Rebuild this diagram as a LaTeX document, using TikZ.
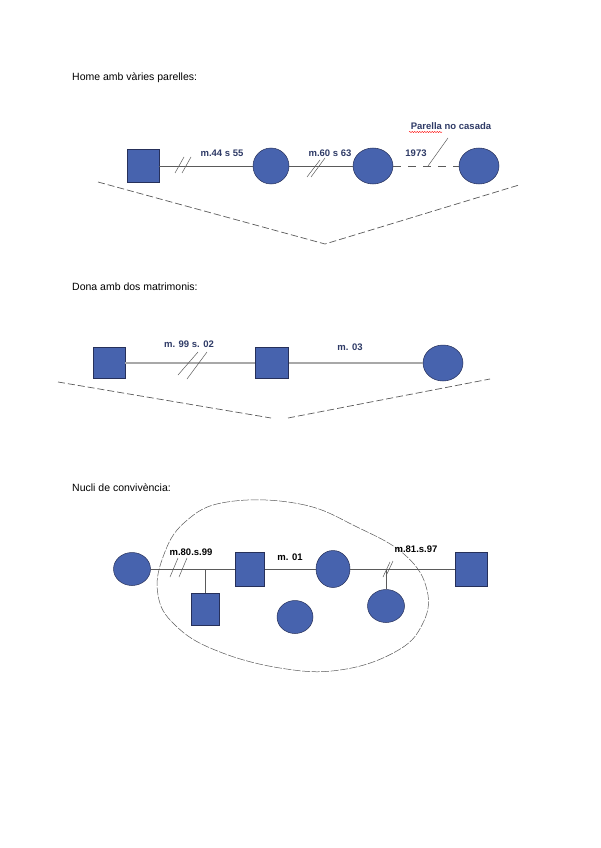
\documentclass[tikz,border=0pt]{standalone}
\usepackage{fontspec}
\setmainfont{Liberation Sans}
\usetikzlibrary{shapes.geometric,decorations.pathmorphing}
\definecolor{pblue}{HTML}{4763AE}
\definecolor{navy}{HTML}{26305A}
\definecolor{lbl}{HTML}{2E3A66}
\definecolor{lgrey}{HTML}{A8A8A8}
\definecolor{dgrey}{HTML}{5A5A5A}
\begin{document}
\begin{tikzpicture}[x=1pt,y=-1pt,
  title/.style={anchor=west,inner sep=0,font=\fontsize{10.5}{12}\selectfont},
  lab/.style={inner sep=0,font=\fontsize{9.5}{11}\bfseries\selectfont,text=lbl},
  labk/.style={inner sep=0,font=\fontsize{9.5}{11}\bfseries\selectfont,text=black},
  fem/.style={ellipse,draw=navy,fill=pblue,line width=0.5pt,inner sep=0},
  male/.style={rectangle,draw=navy,fill=pblue,line width=0.5pt,inner sep=0},
  rel/.style={draw=dgrey,line width=0.6pt},
  relg/.style={draw=lgrey,line width=1.3pt},
  slash/.style={draw=dgrey,line width=0.5pt},
  vdash/.style={draw=dgrey,line width=0.7pt,dash pattern=on 7pt off 3pt},
]
\useasboundingbox (0,0) rectangle (600,848);

% ---------- Section 1 ----------
\node[title] (t1) at (72,78) {Home amb vàries parelles:};
\node[male,minimum width=32pt,minimum height=33pt] (a1) at (143,166) {};
\node[fem,minimum width=36pt,minimum height=36pt] (a2) at (271,166) {};
\node[fem,minimum width=40pt,minimum height=36pt] (a3) at (373,166) {};
\node[fem,minimum width=40pt,minimum height=36pt] (a4) at (479,166) {};
\draw[rel] (a1.east) -- (a2.west);
\draw[rel] (a2.east) -- (a3.west);
\draw[rel,dash pattern=on 8pt off 7pt] (a3.east) -- (a4.west);
\node[lab] (l1) at (222,153) {m.44 s 55};
\node[lab] (l2) at (330,153) {m.60 s 63};
\node[lab] (l3) at (416,153) {1973};
\node[lab] (l4) at (451,126) {Parella no casada};
\coordinate (p1) at (428,166);
\coordinate (p2) at (448,138);
\draw[slash] (p1) -- (p2);
\draw[red,line width=0.4pt,decorate,decoration={snake,amplitude=0.6pt,segment length=2.5pt}] (409,132) -- (442,132);
\draw[slash] (175,173) -- (184,157);
\draw[slash] (182,173) -- (191,157);
\draw[slash] (307,177) -- (320,160);
\draw[slash] (311,177) -- (325,158);
\coordinate (v1a) at (98,182);
\coordinate (v1b) at (325,244);
\coordinate (v1c) at (519,185);
\draw[vdash] (v1a) -- (v1b) -- (v1c);

% ---------- Section 2 ----------
\node[title] (t2) at (72,287) {Dona amb dos matrimonis:};
\node[male,minimum width=32pt,minimum height=31pt] (b1) at (109,363) {};
\node[male,minimum width=33pt,minimum height=31pt] (b2) at (272,363) {};
\node[fem,minimum width=40pt,minimum height=36pt] (b3) at (443,363) {};
\draw[relg] (b1.east) -- (b2.west);
\draw[relg] (b2.east) -- (b3.west);
\node[lab] (l5) at (189,344) {m. 99 s. 02};
\node[lab] (l6) at (350,347) {m. 03};
\draw[slash] (178,375) -- (198,352);
\draw[slash] (187,379) -- (207,352);
\coordinate (v2a) at (58,382);
\coordinate (v2b) at (271,418);
\coordinate (v2c) at (288,418);
\coordinate (v2d) at (490,379);
\draw[vdash] (v2a) -- (v2b);
\draw[vdash] (v2c) -- (v2d);

% ---------- Section 3 ----------
\node[title] (t3) at (72,488) {Nucli de convivència:};
\draw[draw=dgrey,line width=0.5pt,dash pattern=on 8pt off 1.5pt]
  plot[smooth cycle,tension=0.7] coordinates {(227,502) (300,504) (357,527) (405,555) (427,590) (422,625) (395,652) (340,670) (280,668) (215,650) (175,625) (158,595) (163,557) (185,522)};
\node[fem,minimum width=37pt,minimum height=33pt] (c1) at (132,569) {};
\node[male,minimum width=29pt,minimum height=34pt] (c2) at (250,569) {};
\node[fem,minimum width=34pt,minimum height=37pt] (c3) at (333,569) {};
\node[male,minimum width=32pt,minimum height=34pt] (c4) at (471,569) {};
\node[male,minimum width=28pt,minimum height=32pt] (c5) at (205,609) {};
\node[fem,minimum width=36pt,minimum height=33pt] (c6) at (295,617) {};
\node[fem,minimum width=37pt,minimum height=33pt] (c7) at (386,606) {};
\draw[rel] (c1.east) -- (c2.west);
\draw[rel] (c2.east) -- (c3.west);
\draw[rel] (c3.east) -- (c4.west);
\coordinate (j1) at (205,569);
\coordinate (j2) at (386,569);
\draw[rel] (j1) -- (c5.north);
\draw[rel] (j2) -- (c7.north);
\draw[slash] (170,577) -- (178,558);
\draw[slash] (179,577) -- (187,558);
\draw[slash] (383,577) -- (390,562);
\draw[slash] (386,576) -- (393,561);
\node[labk] (l7) at (191,552) {m.80.s.99};
\node[labk] (l8) at (290,557) {m. 01};
\node[labk] (l9) at (416,549) {m.81.s.97};
\end{tikzpicture}
\end{document}
